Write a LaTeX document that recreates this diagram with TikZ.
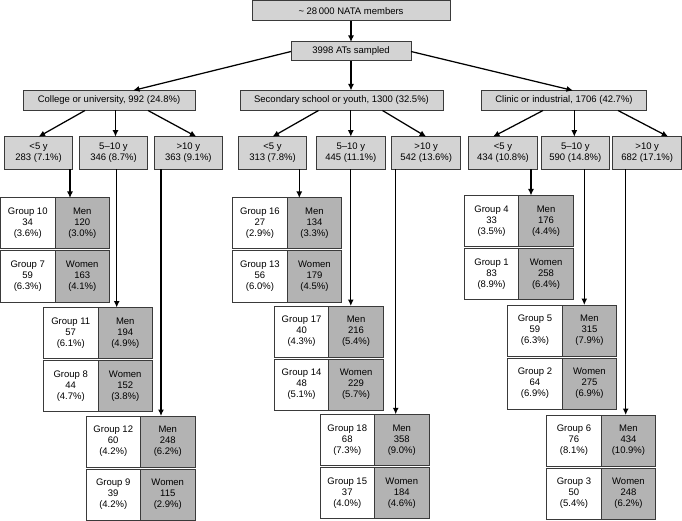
\documentclass[tikz,border=0pt]{standalone}
\usepackage{fontspec}
\setmainfont{Liberation Sans}
\usetikzlibrary{arrows.meta,positioning}
\definecolor{boxfill}{HTML}{D3D3D3}
\definecolor{cellfill}{HTML}{B3B3B3}
\definecolor{edge}{HTML}{3A3A3A}

\begin{document}
\begin{tikzpicture}[
  x=1pt, y=-1pt,
  font=\fontsize{9.5}{11}\selectfont,
  box/.style={draw=edge, line width=1pt, fill=boxfill, align=center, inner sep=0pt, outer sep=0pt, minimum height=20pt},
  yrs/.style={box, minimum width=68.5pt, minimum height=32.6pt},
  grp/.style={draw=edge, line width=1pt, fill=white, align=center, inner sep=0pt, outer sep=0pt, minimum width=54.5pt, minimum height=51pt},
  sex/.style={grp, fill=cellfill},
  arr/.style={-{Latex[length=6.5pt,width=6pt]}, line width=1.25pt},
]
\useasboundingbox (0,0) rectangle (682,521);
% top of the tree
\node[box, minimum width=198pt] (members) at (351,11) {\textasciitilde{} 28\,000 NATA members};
\node[box, minimum width=120pt, minimum height=19pt] (sampled) at (351,51.5) {3998 ATs sampled};
\node[box, minimum width=172pt] (college) at (109,100.5) {College or university, 992 (24.8\%)};
\node[box, minimum width=203pt] (school) at (341.5,100.5) {Secondary school or youth, 1300 (32.5\%)};
\node[box, minimum width=165pt] (clinic) at (564,100.5) {Clinic or industrial, 1706 (42.7\%)};
\draw[arr] (members) -- (sampled);
\draw[arr] (sampled.west) -- ([xshift=24pt]college.north);
\draw[arr] (sampled.south) -- (sampled.south |- school.north);
\draw[arr] (sampled.east) -- ([xshift=9pt]clinic.north);

% years of experience
\node[yrs] (cu1) at (38.6,153) {<5 y\\283 (7.1\%)};
\node[yrs] (cu2) at (113.5,153) {5--10 y\\346 (8.7\%)};
\node[yrs] (cu3) at (188.4,153) {>10 y\\363 (9.1\%)};
\node[yrs] (ss1) at (272.5,153) {<5 y\\313 (7.8\%)};
\node[yrs] (ss2) at (350.8,153) {5--10 y\\445 (11.1\%)};
\node[yrs] (ss3) at (426.2,153) {>10 y\\542 (13.6\%)};
\node[yrs] (ci1) at (503,153) {<5 y\\434 (10.8\%)};
\node[yrs] (ci2) at (575.3,153) {5--10 y\\590 (14.8\%)};
\node[yrs] (ci3) at (647.2,153) {>10 y\\682 (17.1\%)};
\draw[arr] ([xshift=-24pt]college.south) -- (cu1.north);
\draw[arr] ([xshift=6.5pt]college.south) -- ([xshift=2pt]cu2.north);
\draw[arr] ([xshift=39pt]college.south) -- ([xshift=8pt]cu3.north);
\draw[arr] ([xshift=-23pt]school.south) -- (ss1.north);
\draw[arr] ([xshift=9.3pt]school.south) -- (ss2.north);
\draw[arr] ([xshift=41pt]school.south) -- (ss3.north);
\draw[arr] ([xshift=-21pt]clinic.south) -- ([xshift=-10pt]ci1.north);
\draw[arr] ([xshift=10.3pt]clinic.south) -- ([xshift=-1pt]ci2.north);
\draw[arr] ([xshift=54pt]clinic.south) -- ([xshift=21pt]ci3.north);

% groups: college or university
\node[grp, anchor=north west] (g10) at (0.5,198) {Group 10\\34\\(3.6\%)};
\node[sex, right=0pt of g10] (m10) {Men\\120\\(3.0\%)};
\node[grp, below=2pt of g10] (g7) {Group 7\\59\\(6.3\%)};
\node[sex, right=0pt of g7] (w7) {Women\\163\\(4.1\%)};
\node[grp, anchor=north west] (g11) at (43.5,307.5) {Group 11\\57\\(6.1\%)};
\node[sex, right=0pt of g11] (m11) {Men\\194\\(4.9\%)};
\node[grp, below=2pt of g11] (g8) {Group 8\\44\\(4.7\%)};
\node[sex, right=0pt of g8] (w8) {Women\\152\\(3.8\%)};
\node[grp, anchor=north west] (g12) at (86,416) {Group 12\\60\\(4.2\%)};
\node[sex, right=0pt of g12] (m12) {Men\\248\\(6.2\%)};
\node[grp, below=2pt of g12] (g9) {Group 9\\39\\(4.2\%)};
\node[sex, right=0pt of g9] (w9) {Women\\115\\(2.9\%)};

% groups: secondary school or youth
\node[grp, anchor=north west] (g16) at (232.7,198) {Group 16\\27\\(2.9\%)};
\node[sex, right=0pt of g16] (m16) {Men\\134\\(3.3\%)};
\node[grp, below=2pt of g16] (g13) {Group 13\\56\\(6.0\%)};
\node[sex, right=0pt of g13] (w13) {Women\\179\\(4.5\%)};
\node[grp, anchor=north west] (g17) at (274.3,306) {Group 17\\40\\(4.3\%)};
\node[sex, right=0pt of g17] (m17) {Men\\216\\(5.4\%)};
\node[grp, below=2pt of g17] (g14) {Group 14\\48\\(5.1\%)};
\node[sex, right=0pt of g14] (w14) {Women\\229\\(5.7\%)};
\node[grp, anchor=north west] (g18) at (320,414.3) {Group 18\\68\\(7.3\%)};
\node[sex, right=0pt of g18] (m18) {Men\\358\\(9.0\%)};
\node[grp, below=2pt of g18] (g15) {Group 15\\37\\(4.0\%)};
\node[sex, right=0pt of g15] (w15) {Women\\184\\(4.6\%)};

% groups: clinic or industrial
\node[grp, anchor=north west] (g4) at (464.3,195.5) {Group 4\\33\\(3.5\%)};
\node[sex, right=0pt of g4] (m4) {Men\\176\\(4.4\%)};
\node[grp, below=2pt of g4] (g1) {Group 1\\83\\(8.9\%)};
\node[sex, right=0pt of g1] (w1) {Women\\258\\(6.4\%)};
\node[grp, anchor=north west] (g5) at (507.7,305) {Group 5\\59\\(6.3\%)};
\node[sex, right=0pt of g5] (m5) {Men\\315\\(7.9\%)};
\node[grp, below=2pt of g5] (g2) {Group 2\\64\\(6.9\%)};
\node[sex, right=0pt of g2] (w2) {Women\\275\\(6.9\%)};
\node[grp, anchor=north west] (g6) at (546.7,415) {Group 6\\76\\(8.1\%)};
\node[sex, right=0pt of g6] (m6) {Men\\434\\(10.9\%)};
\node[grp, below=2pt of g6] (g3) {Group 3\\50\\(5.4\%)};
\node[sex, right=0pt of g3] (w3) {Women\\248\\(6.2\%)};

% drops to the groups
\draw[arr] ([xshift=31.4pt]cu1.south) -- ([xshift=31.4pt]cu1.south |- m10.north);
\draw[arr] ([xshift=3.2pt]cu2.south) -- ([xshift=3.2pt]cu2.south |- m11.north);
\draw[arr] ([xshift=-27.4pt]cu3.south) -- ([xshift=-27.4pt]cu3.south |- m12.north);
\draw[arr] ([xshift=26.8pt]ss1.south) -- ([xshift=26.8pt]ss1.south |- m16.north);
\draw[arr] (ss2.south) -- (ss2.south |- m17.north);
\draw[arr] ([xshift=-30.5pt]ss3.south) -- ([xshift=-30.5pt]ss3.south |- m18.north);
\draw[arr] ([xshift=28pt]ci1.south) -- ([xshift=28pt]ci1.south |- m4.north);
\draw[arr] ([xshift=9pt]ci2.south) -- ([xshift=9pt]ci2.south |- m5.north);
\draw[arr] ([xshift=-21.5pt]ci3.south) -- ([xshift=-21.5pt]ci3.south |- m6.north);
\end{tikzpicture}
\end{document}
